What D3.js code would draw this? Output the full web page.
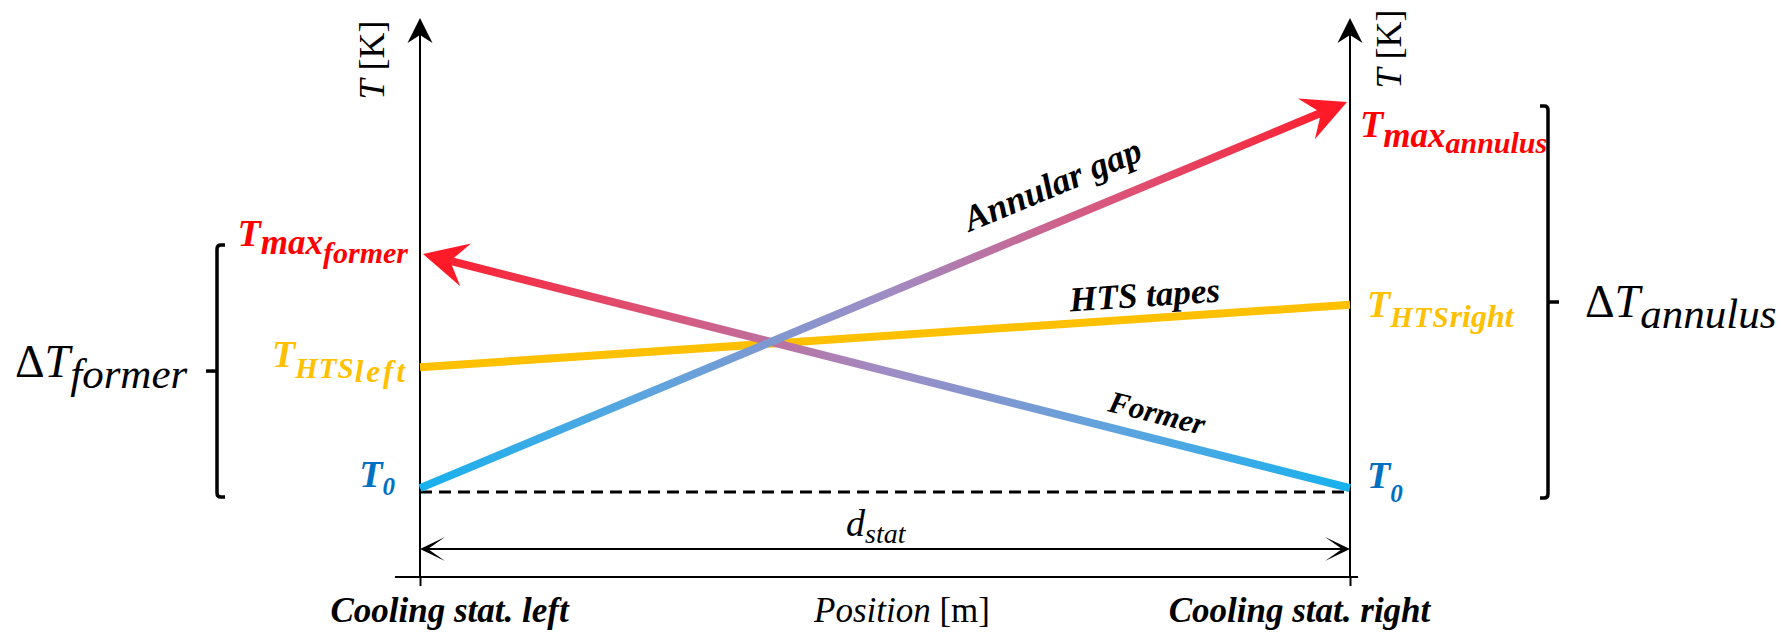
<!DOCTYPE html>
<html lang="en">
<head>
<meta charset="UTF-8">
<title>Temperature profile between cooling stations</title>
<script src="https://d3js.org/d3.v7.min.js"></script>
</head>
<body style="margin:0; background:#fff">
<svg id="chart" width="1783" height="633" style="display:block"></svg>
<script>
// positions along the cable: 0 = left cooling station, 1 = right cooling station
const positions = [0, 1];
const stationLabels = ["Cooling stat. left", "Cooling stat. right"];
// temperatures (arbitrary units, T0 = 0)
const baseT = 0;
const annularGap = [1, 100];
const former = [61, 1];
const htsTapes = [32, 48];

const FONT = "Liberation Serif";
const svg = d3.select("#chart");

var x = d3.scaleLinear().domain([0, 1]).range([420, 1350]);
var y = d3.scaleLinear().domain([0, 100]).range([492, 102]);

const axisY = 577, axisTop = 18;
const blue = "#17b1ee", red = "#ff1a28", gold = "#ffc000";

// every text gets the serif font inline
function txt(sel, bold, italic) {
  return sel.style("font-family", FONT)
    .style("font-weight", bold ? "bold" : "normal")
    .style("font-style", italic ? "italic" : "normal");
}

// shared gradients for the two crossing lines
var defs = svg.append("defs");
function grad(id, c0, c1) {
  var g = defs.append("linearGradient").attr("id", id)
    .attr("gradientUnits", "userSpaceOnUse")
    .attr("x1", x(0)).attr("x2", x(1)).attr("y1", 0).attr("y2", 0);
  var mid = ["#5ea4de", "#9f8cc4", "#dc5378"];
  if (c0 == red) mid = mid.slice().reverse();
  g.append("stop").attr("offset", 0).attr("stop-color", c0);
  g.append("stop").attr("offset", 0.25).attr("stop-color", mid[0]);
  g.append("stop").attr("offset", 0.5).attr("stop-color", mid[1]);
  g.append("stop").attr("offset", 0.75).attr("stop-color", mid[2]);
  g.append("stop").attr("offset", 1).attr("stop-color", c1);
}
grad("gAnn", blue, red);
grad("gFor", red, blue);

// arrowhead helper: returns polygon and the notch where the shaft should stop
function head(x1, y1, x2, y2, L, W, N) {
  var dx = x2 - x1, dy = y2 - y1, len = Math.hypot(dx, dy);
  var ux = dx / len, uy = dy / len, nx = -uy, ny = ux;
  var pts = [
    [x2, y2],
    [x2 - L * ux + W * nx, y2 - L * uy + W * ny],
    [x2 - N * ux, y2 - N * uy],
    [x2 - L * ux - W * nx, y2 - L * uy - W * ny]
  ];
  return {pts: pts, notch: pts[2]};
}

// --- axes frame ---
svg.append("line").attr("x1", 395).attr("x2", 1358)
  .attr("y1", axisY).attr("y2", axisY).attr("stroke", "#000").attr("stroke-width", 2);

positions.forEach(function(p) {
  var h = head(x(p), axisY, x(p), axisTop, 25, 12.5, 17);
  svg.append("line").attr("x1", x(p)).attr("x2", x(p))
    .attr("y1", axisY).attr("y2", h.notch[1])
    .attr("stroke", "#000").attr("stroke-width", 2);
  svg.append("polygon").attr("points", h.pts.join(" ")).attr("fill", "#000");
});

var xAxis = d3.axisBottom(x).tickValues(positions)
  .tickFormat(function(d, i) { return stationLabels[i]; })
  .tickSizeInner(9).tickSizeOuter(0);
var gx = svg.append("g").attr("transform", "translate(0," + axisY + ")").call(xAxis);
gx.select(".domain").remove();
gx.selectAll(".tick line").attr("stroke", "#000").attr("stroke-width", 2);
txt(gx.selectAll(".tick text"), true, true)
  .attr("y", 45).attr("dy", null)
  .attr("font-size", 35).attr("fill", "#000")
  .attr("dx", function(d) { return d == 0 ? 29 : -51; });

var pos = txt(svg.append("text"), false, false).attr("x", 902).attr("y", axisY + 45)
  .attr("text-anchor", "middle").attr("font-size", 35);
pos.append("tspan").style("font-style", "italic").text("Position");
pos.append("tspan").text(" [m]");

// rotated axis titles
[[384, 60], [1401, 49]].forEach(function(c) {
  var t = txt(svg.append("text"), false, false)
    .attr("transform", "translate(" + c[0] + "," + c[1] + ") rotate(-90)")
    .attr("text-anchor", "middle").attr("font-size", 36);
  t.append("tspan").style("font-style", "italic").text("T");
  t.append("tspan").text(" [K]");
});

// --- T0 reference (dashed) ---
svg.append("line").attr("x1", x(0)).attr("x2", x(1))
  .attr("y1", y(baseT)).attr("y2", y(baseT))
  .attr("stroke", "#000").attr("stroke-width", 3).attr("stroke-dasharray", "12 7");

// --- d_stat distance arrow ---
var dY = 549;
var hr = head(x(0), dY, x(1), dY, 25, 12, 8);
var hl = head(x(1), dY, x(0), dY, 25, 12, 8);
svg.append("line").attr("x1", hl.notch[0]).attr("x2", hr.notch[0])
  .attr("y1", dY).attr("y2", dY).attr("stroke", "#000").attr("stroke-width", 2);
svg.append("polygon").attr("points", hr.pts.join(" "));
svg.append("polygon").attr("points", hl.pts.join(" "));
var ds = txt(svg.append("text"), false, true).attr("x", 846).attr("y", dY - 13).attr("font-size", 38);
ds.append("tspan").text("d");
ds.append("tspan").attr("font-size", 28).attr("dy", 7).text("stat");

// --- temperature lines ---
svg.append("line")
  .attr("x1", x(0)).attr("y1", y(htsTapes[0]))
  .attr("x2", x(1)).attr("y2", y(htsTapes[1]))
  .attr("stroke", gold).attr("stroke-width", 8);

function arrowLine(vals, gid) {
  var x1 = x(0), y1 = y(vals[0]), x2 = x(1), y2 = y(vals[1]);
  if (vals[0] > vals[1]) { x1 = x(1); y1 = y(vals[1]); x2 = x(0) + 3; y2 = y(vals[0]); }
  else { x2 = x(1) - 3; }
  var h = head(x1, y1, x2, y2, 44, 22, 28);
  svg.append("line").attr("x1", x1).attr("y1", y1)
    .attr("x2", h.notch[0]).attr("y2", h.notch[1])
    .attr("stroke", "url(#" + gid + ")").attr("stroke-width", 8);
  svg.append("polygon").attr("points", h.pts.join(" ")).attr("fill", red);
}
arrowLine(former, "gFor");
arrowLine(annularGap, "gAnn");

// labels along lines
function lineLabel(vals, f, off, label, size) {
  var x1 = x(0), y1 = y(vals[0]), x2 = x(1), y2 = y(vals[1]);
  var ang = Math.atan2(y2 - y1, x2 - x1) * 180 / Math.PI;
  var px = x1 + f * (x2 - x1), py = y1 + f * (y2 - y1) - off;
  txt(svg.append("text"), true, true).attr("font-size", size)
    .attr("text-anchor", "middle")
    .attr("transform", "translate(" + px + "," + py + ") rotate(" + ang + ")")
    .text(label);
}
lineLabel(annularGap, 0.685, 28, "Annular gap", 36);
lineLabel(htsTapes, 0.78, 12, "HTS tapes", 35);
lineLabel(former, 0.79, 16, "Former", 31);

// --- end-point labels ---
function tLabel(xp, yp, anchor, color, parts) {
  var t = txt(svg.append("text"), true, true).attr("x", xp).attr("y", yp)
    .attr("text-anchor", anchor).attr("fill", color);
  parts.forEach(function(p) {
    t.append("tspan").attr("font-size", p[1]).attr("dy", p[2])
      .attr("letter-spacing", p[3] || null).text(p[0]);
  });
}
var lx = x(0) - 12, rx = x(1) + 12;
tLabel(lx, y(former[0]) - 8, "end", "#ff0000", [["T", 38, 0], ["max", 35, 8], ["former", 30, 9]]);
tLabel(lx, y(htsTapes[0]), "end", gold, [["T", 38, 0], ["HTS", 29, 11, 1], ["left", 31, 4, 3]]);
tLabel(x(0) - 25, y(baseT) - 5, "end", "#0070c0", [["T", 38, 0], ["0", 25, 8]]);
tLabel(rx - 2, y(annularGap[1]) + 35, "start", "#ff0000", [["T", 38, 0], ["max", 35, 10], ["annulus", 30, 6]]);
tLabel(rx + 5, y(htsTapes[1]) + 12, "start", gold, [["T", 38, 0], ["HTS", 29, 10, 1], ["right", 32, 0]]);
tLabel(rx + 5, y(baseT) - 4, "start", "#0070c0", [["T", 38, 0], ["0", 25, 14]]);

// --- brackets for the temperature spans ---
function bracket(xb, yTop, yBot, dir) {
  var s = 8 * dir, r = 4;
  svg.append("path").attr("fill", "none").attr("stroke", "#000").attr("stroke-width", 3.5)
    .attr("d", "M" + (xb + s) + "," + yTop + " H" + (xb + dir * r) +
      " Q" + xb + "," + yTop + " " + xb + "," + (yTop + r) +
      " V" + (yBot - r) + " Q" + xb + "," + yBot + " " + (xb + dir * r) + "," + yBot +
      " H" + (xb + s));
  var ym = (yTop + yBot) / 2;
  svg.append("line").attr("x1", xb).attr("x2", xb - 11 * dir)
    .attr("y1", ym).attr("y2", ym).attr("stroke", "#000").attr("stroke-width", 3.5);
}
bracket(217, y(former[0]) - 9, y(baseT) + 5, 1);
bracket(1548, y(annularGap[1]) + 4, y(baseT) + 6, -1);

function dLabel(xp, yp, sub) {
  var t = txt(svg.append("text"), false, false).attr("x", xp).attr("y", yp).attr("font-size", 46);
  t.append("tspan").text("\u0394");
  t.append("tspan").style("font-style", "italic").text("T");
  t.append("tspan").style("font-style", "italic").attr("font-size", 43).attr("dy", 11).text(sub);
}
dLabel(15, 377, "former");
dLabel(1585, 317, "annulus");
</script>
</body>
</html>
